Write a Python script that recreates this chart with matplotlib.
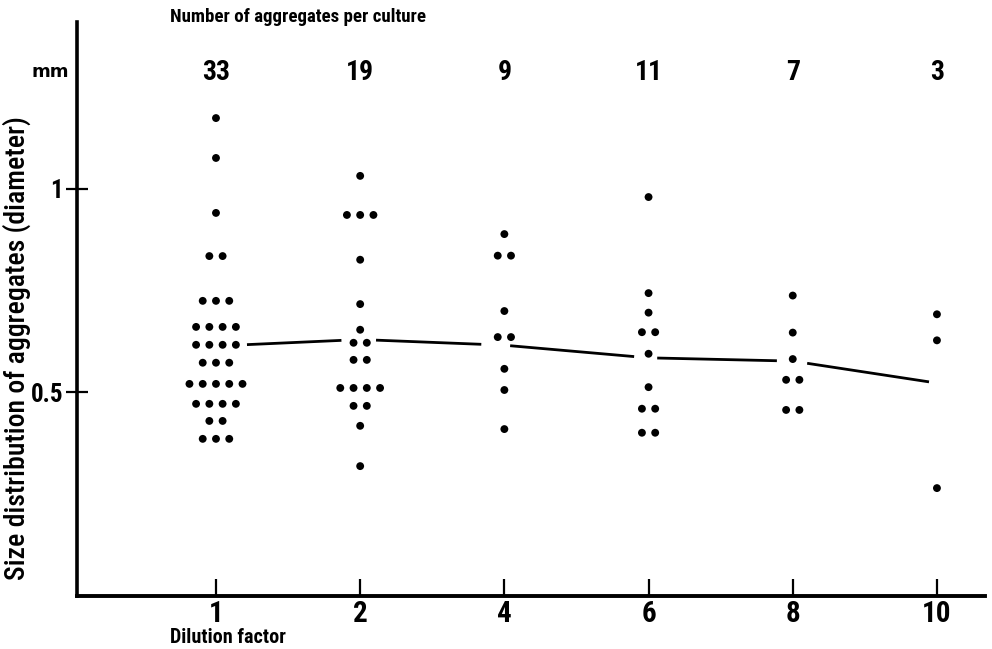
import matplotlib
matplotlib.use("Agg")
import matplotlib.pyplot as plt
from matplotlib import font_manager
from collections import Counter

# pick a condensed/narrow family if available
narrow_family = None
narrow_stretch = 'normal'
names = {f.name for f in font_manager.fontManager.ttflist}
for cand in ['Liberation Sans Narrow', 'Roboto Condensed', 'Open Sans Condensed',
             'DejaVu Sans Condensed', 'Noto Sans Condensed']:
    if cand in names:
        narrow_family = cand
        break
if narrow_family is None:
    for f in font_manager.fontManager.ttflist:
        st = f.stretch
        if (isinstance(st, str) and 'condensed' in st) or (isinstance(st, int) and st < 500):
            narrow_family = f.name
            narrow_stretch = 'condensed'
            break
if narrow_family is None:
    narrow_family = 'DejaVu Sans'

plt.rcParams['font.family'] = [narrow_family, 'DejaVu Sans']
plt.rcParams['font.stretch'] = narrow_stretch

# ---- data ----
dilution_labels = ["1", "2", "4", "6", "8", "10"]
counts_per_culture = ["33", "19", "9", "11", "7", "3"]

sizes_d1 = [1.174, 1.076, 0.941, 0.835, 0.835,
            0.725, 0.725, 0.725,
            0.661, 0.661, 0.661, 0.661,
            0.617, 0.617, 0.617, 0.617,
            0.573, 0.573, 0.573,
            0.521, 0.521, 0.521, 0.521, 0.521,
            0.472, 0.472, 0.472, 0.472,
            0.430, 0.430,
            0.386, 0.386, 0.386]
sizes_d2 = [1.032, 0.936, 0.936, 0.936, 0.826, 0.717, 0.654,
            0.622, 0.622, 0.580, 0.580,
            0.511, 0.511, 0.511, 0.511,
            0.467, 0.467, 0.418, 0.319]
sizes_d4 = [0.889, 0.836, 0.836, 0.700, 0.636, 0.636, 0.558, 0.506, 0.410]
sizes_d6 = [0.980, 0.744, 0.696, 0.648, 0.648, 0.595, 0.513, 0.460, 0.460, 0.401, 0.401]
sizes_d8 = [0.738, 0.647, 0.582, 0.531, 0.531, 0.457, 0.457]
sizes_d10 = [0.692, 0.628, 0.265]
all_sizes = [sizes_d1, sizes_d2, sizes_d4, sizes_d6, sizes_d8, sizes_d10]

mean_line = [0.614, 0.630, 0.616, 0.585, 0.577, 0.523]

# ---- style constants ----
dot_spacing = 0.092
gap_after = [0.215, 0.11, 0.04, 0.06, 0.10]
gap_before = [0.13, 0.16, 0.10, 0.11, 0.055]

fig = plt.figure(figsize=(9.92, 6.49), dpi=100)
ax = fig.add_axes([0.0776, 0.0817, 0.9153, 0.8844])

for gi, vals in enumerate(all_sizes):
    c = Counter(vals)
    xs, ys = [], []
    for v, n in c.items():
        for k in range(n):
            xs.append(gi + (k - (n - 1) / 2) * dot_spacing)
            ys.append(v)
    ax.scatter(xs, ys, s=32, color='black', edgecolors='none', zorder=3)

for i in range(len(mean_line) - 1):
    x0 = i + gap_after[i]
    x1 = i + 1 - gap_before[i]
    y0 = mean_line[i] + (mean_line[i + 1] - mean_line[i]) * gap_after[i]
    y1 = mean_line[i] + (mean_line[i + 1] - mean_line[i]) * (1 - gap_before[i])
    ax.plot([x0, x1], [y0, y1], color='black', lw=2.0, solid_capstyle='butt')

ax.set_xlim(-0.964, 5.333)
ax.set_ylim(0, 1.41)

for s in ['top', 'right']:
    ax.spines[s].set_visible(False)
ax.spines['left'].set_linewidth(2.6)
ax.spines['bottom'].set_linewidth(2.8)

ax.set_xticks(range(len(dilution_labels)))
ax.set_xticklabels(dilution_labels, fontsize=21, fontweight='bold')
ax.tick_params(axis='x', direction='in', length=12, width=1.6, pad=3)
ax.set_yticks([0.5, 1.0])
ax.set_yticklabels(["0.5", "1"], fontsize=18, fontweight='bold')
ax.tick_params(axis='y', direction='inout', length=16, width=1.6, pad=2)

for i, t in enumerate(counts_per_culture):
    ax.text(i, 1.285, t, ha='center', va='center', fontsize=20, fontweight='bold')

fig.text(0.171, 0.974, "Number of aggregates per culture", ha='left', va='center',
         fontsize=13.6, fontweight='bold')
fig.text(0.032, 0.889, "mm", ha='left', va='center', fontsize=13, fontweight='bold',
         family='DejaVu Sans', stretch='normal')
fig.text(0.017, 0.464, "Size distribution of aggregates (diameter)", rotation=90,
         ha='center', va='center', fontsize=20, fontweight='medium')
fig.text(0.171, 0.017, "Dilution factor", ha='left', va='center',
         fontsize=14.5, fontweight='bold')

fig.savefig("out.png", dpi=100)
